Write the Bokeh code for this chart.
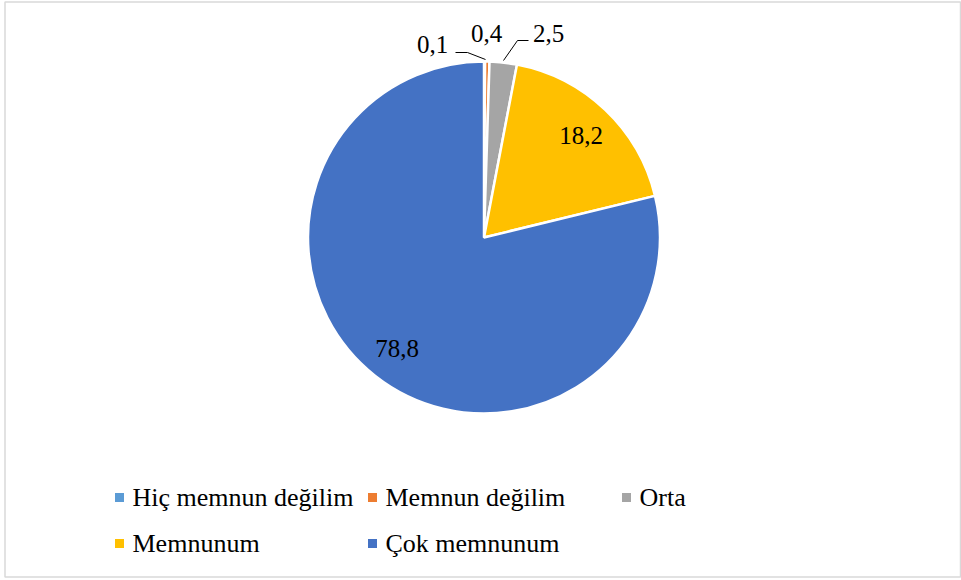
import math
from bokeh.plotting import figure
from bokeh.models import Range1d, ColumnDataSource
from bokeh.core.properties import value
from bokeh.embed import file_html
from bokeh.resources import INLINE

# ---- data ----
categories = ["Hiç memnun değilim", "Memnun değilim", "Orta", "Memnunum", "Çok memnunum"]
values = [0.1, 0.4, 2.5, 18.2, 78.8]
colors = ["#5B9BD5", "#ED7D31", "#A5A5A5", "#FFC000", "#4472C4"]

# ---- layout (screen pixel coordinates) ----
W, H = 961, 580
def sy(y):  # screen y -> data y (data y grows upward)
    return H - y

cx, cy, R = 483.5, sy(237), 176
FONT = "Liberation Serif"

p = figure(width=W, height=H, output_backend="svg", toolbar_location=None,
           x_range=Range1d(0, W), y_range=Range1d(0, H),
           x_axis_location=None, y_axis_location=None, min_border=0,
           background_fill_color="white", border_fill_color="white")
p.grid.visible = False
p.outline_line_color = None

# chart-area border
p.quad(left=[4.5], right=[960], bottom=[sy(576.5)], top=[sy(1.5)],
       fill_color=None, line_color="#D9D9D9", line_width=1.5)

total = sum(values)
starts, ends, mids = [], [], []
c = 0.0
for v in values:
    f = v / total
    starts.append(math.pi / 2 - 2 * math.pi * c)
    ends.append(math.pi / 2 - 2 * math.pi * (c + f))
    mids.append(math.pi / 2 - 2 * math.pi * (c + f / 2))
    c += f

src = ColumnDataSource(dict(start=starts, end=ends, color=colors, cat=categories))
p.wedge(x=cx, y=cy, radius=R, start_angle="start", end_angle="end", direction="clock",
        fill_color="color", line_color="white", line_width=2.5, source=src)

# data labels
small_label_pos = {0: (432, 44), 1: (486, 33), 2: (548, 33)}
leaders = {0: [(455, 52), (467, 52), (485, 59)], 2: [(528, 40), (517, 40), (503, 60)]}
lx, ly, lt = [], [], []
for i, v in enumerate(values):
    txt = f"{v:.1f}".replace(".", ",")
    if i in small_label_pos:
        x, y = small_label_pos[i]
        lx.append(x); ly.append(sy(y))
    else:
        lx.append(cx + 0.8 * R * math.cos(mids[i]))
        ly.append(cy + 0.8 * R * math.sin(mids[i]))
    lt.append(txt)
p.text(x=lx, y=ly, text=lt, text_font=value(FONT), text_font_size="25px",
       text_align="center", text_baseline="middle", text_color="black")
for i, pts in leaders.items():
    p.line([q[0] for q in pts], [sy(q[1]) for q in pts], line_color="black", line_width=1)

# legend (manual, Excel-like grid)
leg_pos = [(119, 497), (372, 497), (626, 497), (119, 543), (372, 543)]
mx = [q[0] for q in leg_pos]
my = [sy(q[1]) for q in leg_pos]
p.scatter(x=mx, y=my, marker="square", size=9, fill_color=colors, line_color=None)
p.text(x=[x + 13 for x in mx], y=my, text=categories, text_font=value(FONT),
       text_font_size="26px", text_align="left", text_baseline="middle", text_color="black")

open("out.html", "w").write(file_html(p, INLINE))
